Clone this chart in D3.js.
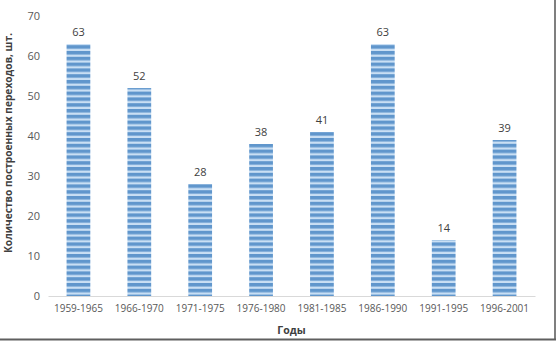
<!DOCTYPE html>
<html>
<head>
<meta charset="utf-8">
<script src="https://cdn.jsdelivr.net/npm/d3@7"></script>
<style>
  body { margin: 0; background: #fff; }
  text { font-family: "Open Sans", "Noto Sans", sans-serif; }
</style>
</head>
<body>
<div class="chart"></div>
<script>
// data
const periods = ["1959-1965", "1966-1970", "1971-1975", "1976-1980", "1981-1985", "1986-1990", "1991-1995", "1996-2001"];
const counts = [63, 52, 28, 38, 41, 63, 14, 39];
const yTicks = [0, 10, 20, 30, 40, 50, 60, 70];

const W = 557, H = 341;
const margin = ({top: 16, right: 22, bottom: 45, left: 48});
const width = W - margin.left - margin.right;
const height = H - margin.top - margin.bottom;

const root = d3.select(".chart").append("svg")
    .attr("width", W)
    .attr("height", H);

// striped fill like the original
const defs = root.append("defs");
const pat = defs.append("pattern")
    .attr("id", "stripes")
    .attr("patternUnits", "userSpaceOnUse")
    .attr("width", 6)
    .attr("height", 5.8)
    .attr("y", margin.top + height);
pat.append("rect").attr("width", 6).attr("height", 5.8).attr("fill", "#c9dff4");
pat.append("rect").attr("width", 6).attr("height", 3.5).attr("fill", "#6096cc");

const svg = root.append("g")
    .attr("transform", `translate(${margin.left},${margin.top})`);

const x = d3.scaleBand()
    .domain(periods)
    .range([0, width])
    .paddingInner(0.61)
    .paddingOuter(0.305);

const y = d3.scaleLinear()
    .domain([0, 70])
    .range([height, 0]);

// y tick labels
const yAxis = d3.axisLeft(y).tickValues(yTicks).tickSize(0).tickPadding(8);
svg.append("g")
    .attr("class", "axis y-axis")
    .call(yAxis)
    .call(g => g.select(".domain").remove())
    .selectAll("text")
    .attr("font-size", 11)
    .attr("fill", "#595959");

// bars
svg.selectAll("rect.bar")
    .data(counts)
    .enter()
    .append("rect")
    .attr("class", "bar")
    .attr("x", (d, i) => x(periods[i]))
    .attr("y", d => y(d))
    .attr("width", x.bandwidth())
    .attr("height", d => height - y(d))
    .attr("fill", "url(#stripes)");

// value labels
svg.selectAll("text.val")
    .data(counts)
    .enter()
    .append("text")
    .attr("class", "val")
    .attr("x", (d, i) => x(periods[i]) + x.bandwidth() / 2)
    .attr("y", d => y(d) - 8)
    .attr("text-anchor", "middle")
    .attr("font-size", 11)
    .attr("fill", "#404040")
    .text(d => d);

// x axis
const xAxis = d3.axisBottom(x).tickSize(0).tickPadding(9);
svg.append("g")
    .attr("class", "axis x-axis")
    .attr("transform", `translate(0, ${height})`)
    .call(xAxis)
    .call(g => g.select(".domain").attr("stroke", "#d9d9d9"))
    .selectAll("text")
    .attr("font-size", 10)
    .attr("fill", "#595959");

// axis titles
root.append("text")
    .attr("x", margin.left + width / 2)
    .attr("y", 334)
    .attr("text-anchor", "middle")
    .attr("font-size", 10.5)
    .attr("font-weight", "bold")
    .attr("fill", "#404040")
    .text("Годы");

root.append("text")
    .attr("transform", "translate(12, 143) rotate(-90)")
    .attr("text-anchor", "middle")
    .attr("font-size", 10.2)
    .attr("font-weight", "bold")
    .attr("fill", "#404040")
    .text("Количество построенных переходов, шт.");

// frame edges on right and bottom
root.append("line")
    .attr("x1", 555).attr("x2", 555).attr("y1", 0).attr("y2", 340)
    .attr("stroke", "#7f7f7f").attr("stroke-width", 2);
root.append("line")
    .attr("x1", 0).attr("x2", 556).attr("y1", 339.5).attr("y2", 339.5)
    .attr("stroke", "#5f5f5f").attr("stroke-width", 2);
</script>
</body>
</html>
